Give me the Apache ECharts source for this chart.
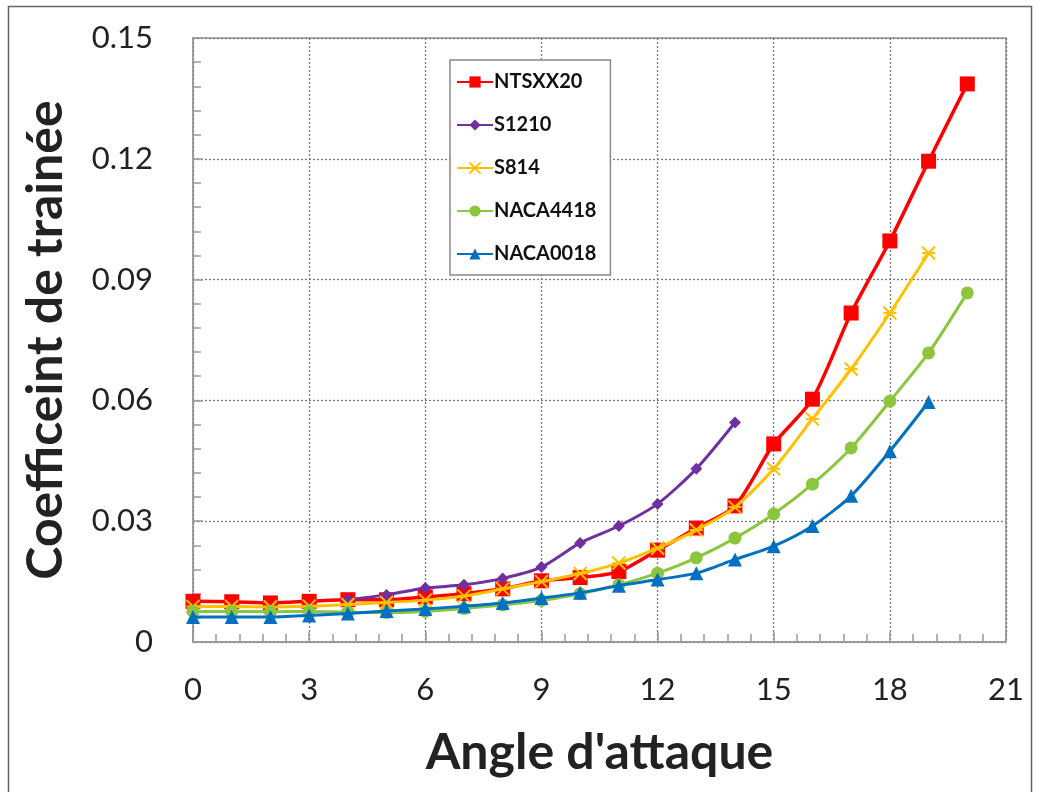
<!DOCTYPE html>
<html><head><meta charset="utf-8">
<script src="https://cdn.jsdelivr.net/npm/echarts@6/dist/echarts.min.js"></script>
<style>html,body{margin:0;padding:0;background:#fff}#c{width:1039px;height:792px}</style>
</head><body><div id="c"></div>
<script>
var seriesNames = ['NTSXX20', 'S1210', 'S814', 'NACA4418', 'NACA0018'];
var angles = [0,1,2,3,4,5,6,7,8,9,10,11,12,13,14,15,16,17,18,19,20];
var ntsxx20 = [0.0101,0.0100,0.0097,0.0101,0.0105,0.0105,0.0112,0.0120,0.0132,0.0152,0.0160,0.0175,0.0228,0.0283,0.0338,0.0492,0.0603,0.0817,0.0996,0.1194,0.1386];
var s1210 = [null,null,null,null,0.0105,0.0117,0.0134,0.0142,0.0158,0.0186,0.0246,0.0288,0.0343,0.0430,0.0545];
var s814 = [0.0088,0.0088,0.0087,0.0089,0.0093,0.0098,0.0104,0.0114,0.0132,0.0150,0.0170,0.0196,0.0233,0.0278,0.0335,0.0430,0.0554,0.0678,0.0817,0.0966];
var naca4418 = [0.0076,0.0076,0.0075,0.0076,0.0074,0.0073,0.0076,0.0083,0.0092,0.0103,0.0120,0.0142,0.0171,0.0209,0.0258,0.0318,0.0392,0.0482,0.0598,0.0718,0.0867];
var naca0018 = [0.0062,0.0062,0.0062,0.0066,0.0071,0.0077,0.0082,0.0089,0.0097,0.0109,0.0122,0.0140,0.0155,0.0171,0.0205,0.0238,0.0288,0.0363,0.0474,0.0596];
var yTickLabels = {0:'0', 0.03:'0.03', 0.06:'0.06', 0.09:'0.09', 0.12:'0.12', 0.15:'0.15'};

function pairs(arr){
  var out = [];
  for (var i = 0; i < arr.length; i++) { if (arr[i] != null) out.push([angles[i], arr[i]]); }
  return out;
}
var colors = ['#ff0000', '#7030a0', '#ffc000', '#8cc63f', '#0070c0'];
var symbols = ['rect', 'diamond', 'path://M0,0L10,10M10,0L0,10M0,5L10,5', 'circle', 'triangle'];
var sizes = [15, 12, 13, 13, 14];
var widths = [3.5, 3, 3, 3, 3];
var datas = [ntsxx20, s1210, s814, naca4418, naca0018];
var series = [];
for (var k = 0; k < 5; k++) {
  series.push({
    name: seriesNames[k], type: 'line', data: pairs(datas[k]),
    smooth: 0.25, symbol: symbols[k], symbolSize: sizes[k],
    lineStyle: {color: colors[k], width: widths[k]},
    itemStyle: {color: colors[k], borderColor: colors[k], borderWidth: k === 2 ? 2 : 0},
    z: 2 + k
  });
}
var chart = echarts.init(document.getElementById('c'));
chart.setOption({
  animation: false,
  backgroundColor: '#fff',
  color: colors,
  graphic: [{type: 'rect', shape: {x: 8.5, y: 6.5, width: 1023, height: 800}, style: {fill: 'none', stroke: '#666', lineWidth: 1.5}, silent: true}],
  grid: {left: 193, right: 33, top: 38, bottom: 150, show: true, borderColor: '#999', borderWidth: 1.5, containLabel: false},
  legend: {
    orient: 'vertical', left: 450, top: 60,
    padding: [11, 14, 10, 6], itemGap: 21, itemWidth: 36, itemHeight: 14,
    backgroundColor: '#fff', borderColor: '#888', borderWidth: 1.5,
    textStyle: {fontFamily: 'Lato', fontWeight: 'bold', fontSize: 20, lineHeight: 22, color: '#111', padding: [0, 0, 0, -4]},
    data: seriesNames
  },
  xAxis: {
    type: 'value', min: 0, max: 21, interval: 3,
    name: "Angle d'attaque", nameLocation: 'middle', nameGap: 86,
    nameTextStyle: {fontFamily: 'Lato', fontWeight: 'bold', fontSize: 50, color: '#222'},
    axisLine: {show: true, lineStyle: {color: '#999', width: 1.5}},
    axisTick: {show: true, inside: true, length: 10, lineStyle: {color: '#999', width: 1.5}},
    minorTick: {show: true, splitNumber: 5, length: 8, lineStyle: {color: '#999', width: 1.5}},
    axisLabel: {fontFamily: 'Lato', fontSize: 31, color: '#222', margin: 32},
    splitLine: {show: true, lineStyle: {color: '#777', type: [2, 2], width: 1.3}}
  },
  yAxis: {
    type: 'value', min: 0, max: 0.15, interval: 0.03,
    name: 'Coefficeint de trainée', nameLocation: 'middle', nameGap: 122, nameRotate: 90,
    nameTextStyle: {fontFamily: 'Lato', fontWeight: 'bold', fontSize: 50, color: '#222'},
    axisLine: {show: true, lineStyle: {color: '#999', width: 1.5}},
    axisTick: {show: true, inside: true, length: 10, lineStyle: {color: '#999', width: 1.5}},
    minorTick: {show: true, splitNumber: 5, length: 8, lineStyle: {color: '#999', width: 1.5}},
    axisLabel: {fontFamily: 'Lato', fontSize: 31, color: '#222', margin: 40,
      formatter: function (v) { var key = Math.round(v * 100) / 100; return yTickLabels[key] !== undefined ? yTickLabels[key] : ''; }},
    splitLine: {show: true, lineStyle: {color: '#777', type: [2, 2], width: 1.3}}
  },
  series: series
});
</script></body></html>
